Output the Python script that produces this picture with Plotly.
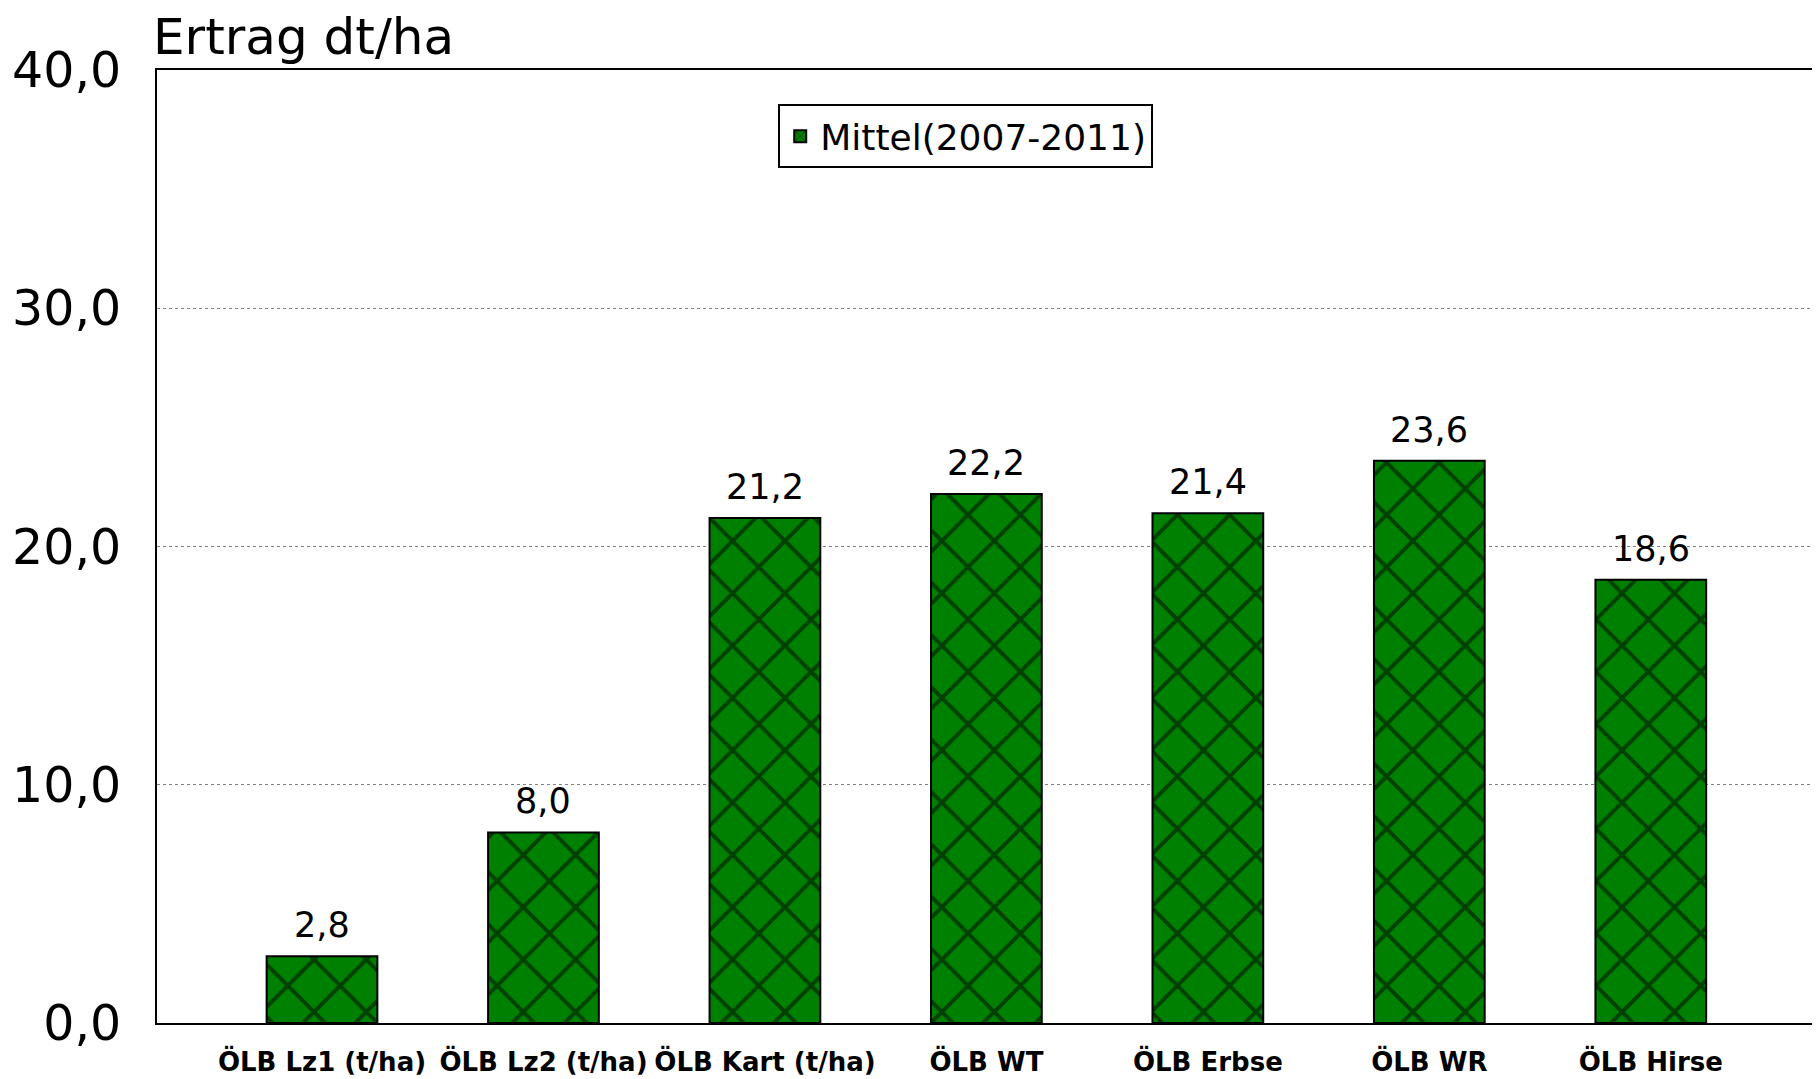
import plotly.graph_objects as go

kategorien = ["ÖLB Lz1 (t/ha)", "ÖLB Lz2 (t/ha)", "ÖLB Kart (t/ha)", "ÖLB WT",
              "ÖLB Erbse", "ÖLB WR", "ÖLB Hirse"]
mittel = [2.8, 8.0, 21.2, 22.2, 21.4, 23.6, 18.6]

GRUEN = "#008000"
FONT = "DejaVu Sans, Verdana, sans-serif"

fig = go.Figure()
fig.add_trace(go.Bar(
    x=kategorien, y=mittel, name="Mittel(2007-2011)",
    width=0.5,
    marker=dict(
        color=GRUEN,
        line=dict(color="black", width=2),
        pattern=dict(shape="x", fgcolor="black", bgcolor=GRUEN,
                     size=37, solidity=0.2, fillmode="overlay"),
    ),
))

# Wertebeschriftung ueber den Balken
for kat, wert in zip(kategorien, mittel):
    fig.add_annotation(
        x=kat, y=wert, xref="x", yref="y", yanchor="bottom", yshift=9,
        showarrow=False, text=f"{wert:.1f}".replace(".", ","),
        font=dict(family=FONT, size=35, color="black"),
    )

# Achsentitel oben links
fig.add_annotation(
    x=0, y=1.0, xref="paper", yref="paper", xanchor="left", yanchor="bottom",
    xshift=-6, yshift=2, showarrow=False, text="Ertrag dt/ha",
    font=dict(family=FONT, size=50, color="black"),
)

fig.update_layout(
    width=1820, height=1079,
    paper_bgcolor="white", plot_bgcolor="white",
    separators=",.",
    margin=dict(l=149, r=10, t=62, b=64),
    showlegend=True,
    legend=dict(
        x=0.374, y=0.964, xanchor="left", yanchor="top",
        bordercolor="black", borderwidth=2, bgcolor="white",
        font=dict(family=FONT, size=36, color="black"),
        itemwidth=30, tracegroupgap=0,
    ),
    bargap=0.5,
)
fig.update_xaxes(
    range=[-0.745, 6.755], automargin=False,
    showline=True, linecolor="black", linewidth=2, mirror=True,
    showgrid=False, ticks="", tickangle=0,
    tickfont=dict(family=FONT, size=26, color="black", weight="bold"),
    ticklabelstandoff=15,
)
fig.update_yaxes(
    range=[0, 40], dtick=10, tickformat=".1f", automargin=False,
    showline=True, linecolor="black", linewidth=2, mirror=True,
    showgrid=True, gridcolor="#808080", gridwidth=1, griddash="dot",
    zeroline=False, ticks="",
    tickfont=dict(family=FONT, size=49, color="black"),
    ticklabelstandoff=24,
)

fig.write_html("out.html")
